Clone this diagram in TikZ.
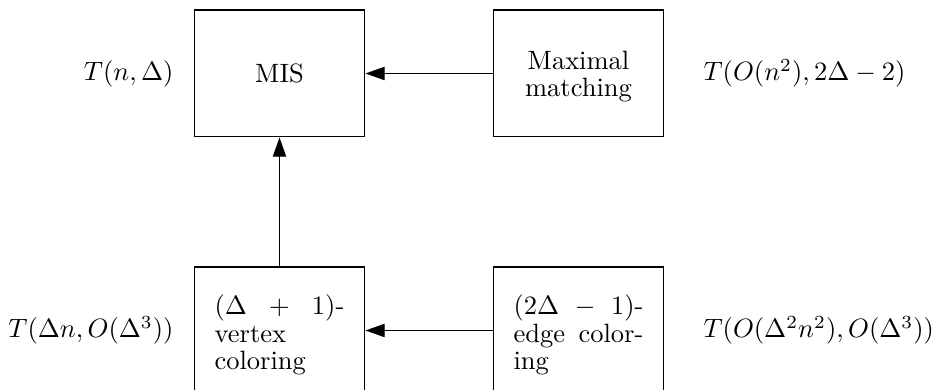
\documentclass[tikz,border=0pt]{standalone}
\usetikzlibrary{arrows.meta}
\begin{document}
\begin{tikzpicture}[x=0.3774pt,y=-0.3774pt,
  taskbox/.style={draw, line width=0.4pt, minimum width=64.5pt, minimum height=47.9pt,
    text width=49pt, inner sep=0pt, font=\fontsize{10}{10.3}\selectfont},
  centred/.style={align=center},
  para/.style={align=justify},
  cost/.style={inner sep=0pt, font=\fontsize{10}{12}\selectfont},
  reduce/.style={-{Triangle[length=7.2pt,width=5pt]}, line width=0.4pt}]
  \useasboundingbox (0,0) rectangle (935,390);

  % problem boxes
  \node[taskbox,centred] (mis) at (279.5,73.5) {MIS};
  \node[taskbox,centred,text height=9.2pt] (mm) at (578.5,73.5) {Maximal matching};
  \node[taskbox,para,text height=10.9pt] (vc) at (279.5,330.5) {$(\Delta+1)$-vertex coloring};
  \node[taskbox,para,text height=10.9pt] (ec) at (578.5,330.5) {$(2\Delta-1)$-edge coloring};

  % running times
  \node[cost,anchor=east] (tmis) at (174,73.5) {$T(n,\Delta)$};
  \node[cost,anchor=west] (tmm) at (703,73.5) {$T(O(n^2),2\Delta-2)$};
  \node[cost,anchor=east] (tvc) at (174,330.5) {$T(\Delta n,O(\Delta^3))$};
  \node[cost,anchor=west] (tec) at (703,330.5) {$T(O(\Delta^2n^2),O(\Delta^3))$};

  % reductions
  \draw[reduce] (mm.west) -- (mis.east);
  \draw[reduce] (ec.west) -- (vc.east);
  \draw[reduce] (vc.north) -- (mis.south);
\end{tikzpicture}
\end{document}
